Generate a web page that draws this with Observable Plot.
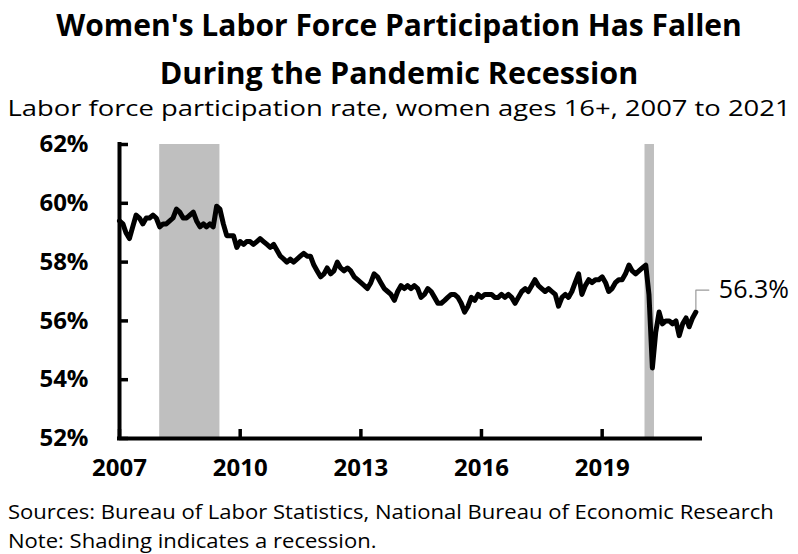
<!DOCTYPE html>
<html><head><meta charset="utf-8">
<script src="https://cdn.jsdelivr.net/npm/d3@7"></script>
<script src="https://cdn.jsdelivr.net/npm/@observablehq/plot@0.6"></script>
<style>
body{margin:0;background:#fff;width:798px;height:554px;position:relative;overflow:hidden;font-family:"Open Sans",sans-serif;color:#000}
.t{position:absolute;left:0;width:798px;text-align:center;white-space:nowrap;z-index:2}
.f{position:absolute;left:8px;white-space:nowrap;font-size:19.5px;line-height:28px;transform:scaleX(1.13);transform-origin:0 50%;z-index:2}
#chart{position:absolute;left:0;top:118px;z-index:1}
</style></head><body>
<div class="t" style="top:5px;font-size:30px;font-weight:700;line-height:40px">Women's Labor Force Participation Has Fallen</div>
<div class="t" style="top:52px;font-size:30.5px;font-weight:700;line-height:40px">During the Pandemic Recession</div>
<div class="t" style="top:91.5px;font-size:22px;line-height:30px;transform:scaleX(1.245);transform-origin:50% 50%">Labor force participation rate, women ages 16+, 2007 to 2021</div>
<div id="chart"></div>
<div class="f" style="top:498px">Sources: Bureau of Labor Statistics, National Bureau of Economic Research</div>
<div class="f" style="top:527px">Note: Shading indicates a recession.</div>
<script>
// Monthly labor force participation rate, women 16+ (%)
const rate2007 = [59.4, 59.3, 59.0, 58.8, 59.2, 59.6, 59.5, 59.3, 59.5, 59.5, 59.6, 59.5];
const rate2008 = [59.2, 59.3, 59.3, 59.4, 59.5, 59.8, 59.7, 59.5, 59.5, 59.6, 59.7, 59.4];
const rate2009 = [59.2, 59.3, 59.2, 59.3, 59.2, 59.9, 59.8, 59.3, 58.9, 58.9, 58.9, 58.5];
const rate2010 = [58.7, 58.6, 58.7, 58.7, 58.6, 58.7, 58.8, 58.7, 58.6, 58.5, 58.6, 58.4];
const rate2011 = [58.2, 58.1, 58.0, 58.1, 58.0, 58.1, 58.2, 58.3, 58.2, 58.2, 57.9, 57.7];
const rate2012 = [57.5, 57.6, 57.8, 57.6, 57.7, 58.0, 57.8, 57.7, 57.8, 57.7, 57.5, 57.4];
const rate2013 = [57.3, 57.2, 57.1, 57.3, 57.6, 57.5, 57.3, 57.1, 57.0, 56.9, 56.7, 57.0];
const rate2014 = [57.2, 57.1, 57.2, 57.1, 57.2, 57.1, 56.8, 56.9, 57.1, 57.0, 56.8, 56.6];
const rate2015 = [56.6, 56.7, 56.8, 56.9, 56.9, 56.8, 56.6, 56.3, 56.5, 56.8, 56.7, 56.9];
const rate2016 = [56.8, 56.9, 56.9, 56.9, 56.8, 56.8, 56.9, 56.8, 56.9, 56.8, 56.6, 56.8];
const rate2017 = [57.0, 57.1, 57.0, 57.2, 57.4, 57.2, 57.1, 57.0, 57.1, 57.0, 56.9, 56.5];
const rate2018 = [56.8, 56.9, 56.8, 57.0, 57.3, 57.6, 56.9, 57.2, 57.4, 57.3, 57.4, 57.4];
const rate2019 = [57.5, 57.3, 57.0, 57.1, 57.3, 57.4, 57.4, 57.6, 57.9, 57.7, 57.6, 57.7];
const rate2020 = [57.8, 57.9, 56.9, 54.4, 55.6, 56.3, 55.9, 56.0, 56.0, 55.9, 56.0, 55.5];
const rate2021 = [55.9, 56.1, 55.8, 56.1, 56.3];
const years = [2007, 2008, 2009, 2010, 2011, 2012, 2013, 2014, 2015, 2016, 2017, 2018, 2019, 2020, 2021];
const yearRates = [rate2007, rate2008, rate2009, rate2010, rate2011, rate2012, rate2013, rate2014, rate2015, rate2016, rate2017, rate2018, rate2019, rate2020, rate2021];

// Recession shading (NBER)
const recessionStart = ["2008-01-01", "2020-01-25"];
const recessionEnd = ["2009-07-01", "2020-04-20"];

const yTicks = [52, 54, 56, 58, 60, 62];
const xTickYears = [2007, 2010, 2013, 2016, 2019];
const xDomain = ["2007-01-01", "2021-06-12"];

const data = [];
years.forEach((yr, k) => yearRates[k].forEach((v, m) => data.push({date: new Date(Date.UTC(yr, m, 1)), value: v})));
const recessions = recessionStart.map((s, i) => ({start: new Date(s), end: new Date(recessionEnd[i])}));
const last = data[data.length - 1];

const chart = Plot.plot({
  width: 798, height: 372,
  marginTop: 26, marginBottom: 52, marginLeft: 119, marginRight: 98,
  style: {fontFamily: "'Open Sans', sans-serif", color: "#000", background: "transparent", overflow: "visible"},
  x: {type: "utc", domain: xDomain.map(d => new Date(d)), label: null},
  y: {domain: [yTicks[0], yTicks[yTicks.length - 1]], label: null},
  marks: [
    Plot.rect(recessions, {x1: "start", x2: "end", fill: "#bfbfbf"}),
    Plot.axisY({ticks: yTicks, tickSize: -9, tickPadding: 40, strokeWidth: 3.5, tickFormat: d => d + "%", fontSize: 24, fontWeight: 700, label: null}),
    Plot.axisX({ticks: xTickYears.map(y => new Date(Date.UTC(y, 0, 1))), tickSize: -9, tickPadding: 29, strokeWidth: 3.5, tickFormat: d => String(d.getUTCFullYear()), fontSize: 24, fontWeight: 700, label: null}),
    Plot.ruleX([data[0].date], {strokeWidth: 4, strokeLinecap: "square"}),
    Plot.ruleY([yTicks[0]], {strokeWidth: 4, strokeLinecap: "square"}),
    Plot.line(data, {x: "date", y: "value", stroke: "#000", strokeWidth: 5, strokeLinejoin: "round", strokeLinecap: "round"}),
    Plot.vector([last], {x: "date", y: "value", length: 22, rotate: 0, anchor: "start", stroke: "#9a9a9a", strokeWidth: 1.2,
      shape: {draw(ctx, l) { ctx.moveTo(0, -3); ctx.lineTo(0, -l); ctx.lineTo(13, -l); }}}),
    Plot.text([last], {x: "date", y: "value", text: d => d.value.toFixed(1) + "%", dx: 23, dy: -22, textAnchor: "start", fontSize: 25, fill: "#000"})
  ]
});
document.getElementById("chart").appendChild(chart);
</script>
</body></html>
